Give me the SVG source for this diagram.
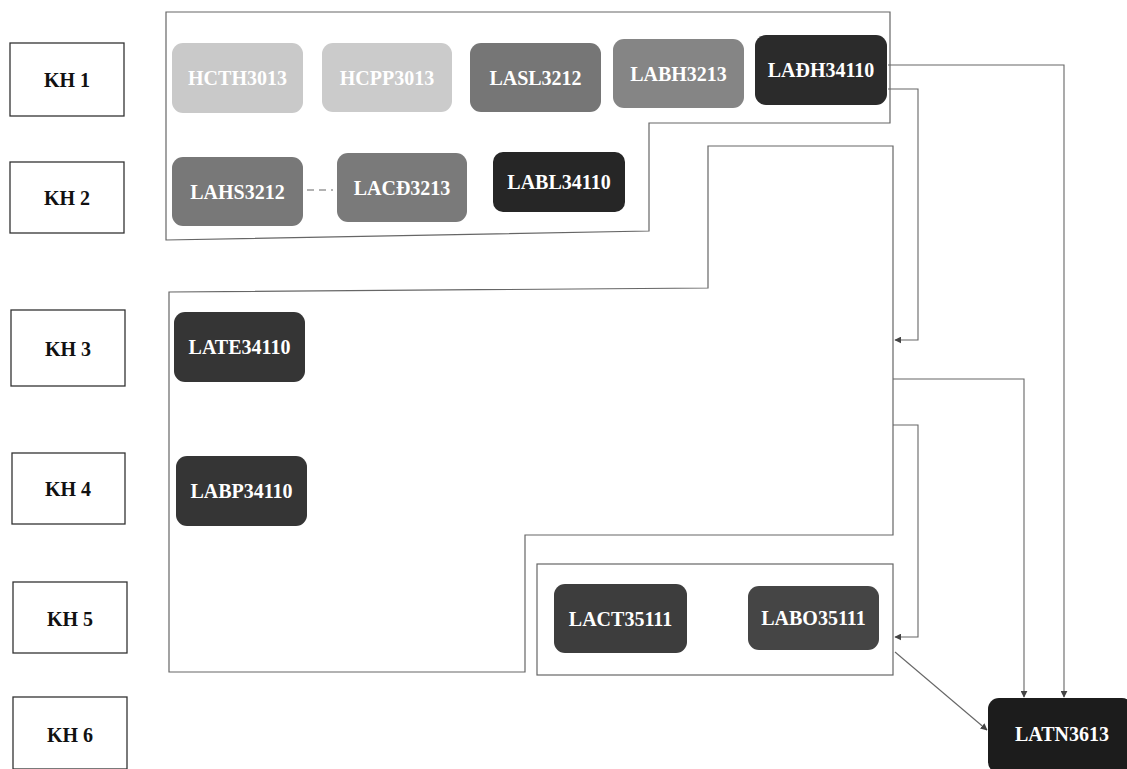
<svg xmlns="http://www.w3.org/2000/svg" width="1127" height="769" viewBox="0 0 1127 769">
<defs>
<marker id="ah" viewBox="0 0 10 10" refX="9" refY="5" markerWidth="7" markerHeight="7" orient="auto" markerUnits="userSpaceOnUse">
<path d="M0,0 L10,5 L0,10 Z" fill="#444"/>
</marker>
<style>
.kh rect{fill:#fff;stroke:#333;stroke-width:1.3}
.kh text{font-family:"Liberation Serif","Times New Roman",serif;font-weight:bold;font-size:20px;fill:#111;text-anchor:middle;dominant-baseline:central}
.nd text{font-family:"Liberation Serif","Times New Roman",serif;font-weight:bold;font-size:20px;fill:#fff;text-anchor:middle;dominant-baseline:central}
.grp{fill:none;stroke:#666;stroke-width:1.2}
.cn{fill:none;stroke:#666;stroke-width:1.1}
</style>
</defs>
<rect width="1127" height="769" fill="#fff"/>

<g id="kh1" class="kh"><rect x="10" y="43" width="114" height="73"/><text x="67" y="80">KH 1</text></g>
<g id="kh2" class="kh"><rect x="10" y="162" width="114" height="71"/><text x="67" y="198">KH 2</text></g>
<g id="kh3" class="kh"><rect x="11" y="310" width="114" height="76"/><text x="68" y="349">KH 3</text></g>
<g id="kh4" class="kh"><rect x="12" y="453" width="113" height="71"/><text x="68" y="489">KH 4</text></g>
<g id="kh5" class="kh"><rect x="13" y="582" width="114" height="71"/><text x="70" y="619">KH 5</text></g>
<g id="kh6" class="kh"><rect x="13" y="697" width="114" height="72"/><text x="70" y="735">KH 6</text></g>

<g id="groups">
<path class="grp" d="M166,12 H890 V123 H649 V231 L166,240 Z"/>
<path class="grp" d="M708,146 H893 V535 H525 V672 H169 V292 L708,288 Z"/>
<rect class="grp" x="537" y="564" width="356" height="111"/>
</g>

<g id="HCTH3013" class="nd"><rect x="172" y="43" width="131" height="70" rx="11" fill="#c9c9c9"/><text x="237.5" y="78">HCTH3013</text></g>
<g id="HCPP3013" class="nd"><rect x="322" y="43" width="130" height="69" rx="11" fill="#cbcbcb"/><text x="387" y="78">HCPP3013</text></g>
<g id="LASL3212" class="nd"><rect x="470" y="43" width="131" height="69" rx="11" fill="#767676"/><text x="535.5" y="78">LASL3212</text></g>
<g id="LABH3213" class="nd"><rect x="613" y="39" width="131" height="69" rx="11" fill="#858585"/><text x="678.5" y="74">LABH3213</text></g>
<g id="LADH34110" class="nd"><rect x="755" y="35" width="132" height="70" rx="11" fill="#2b2b2b"/><text x="821" y="70">LAĐH34110</text></g>
<g id="LAHS3212" class="nd"><rect x="172" y="157" width="131" height="69" rx="11" fill="#787878"/><text x="237.5" y="192">LAHS3212</text></g>
<g id="LACD3213" class="nd"><rect x="337" y="153" width="130" height="69" rx="11" fill="#7a7a7a"/><text x="402" y="188">LACĐ3213</text></g>
<g id="LABL34110" class="nd"><rect x="493" y="152" width="132" height="60" rx="10" fill="#262626"/><text x="559" y="182">LABL34110</text></g>
<g id="LATE34110" class="nd"><rect x="174" y="312" width="131" height="70" rx="11" fill="#353535"/><text x="239.5" y="347">LATE34110</text></g>
<g id="LABP34110" class="nd"><rect x="176" y="456" width="131" height="70" rx="11" fill="#353535"/><text x="241.5" y="491">LABP34110</text></g>
<g id="LACT35111" class="nd"><rect x="554" y="584" width="133" height="69" rx="11" fill="#3d3d3d"/><text x="620.5" y="619">LACT35111</text></g>
<g id="LABO35111" class="nd"><rect x="748" y="586" width="131" height="64" rx="11" fill="#454545"/><text x="813.5" y="618">LABO35111</text></g>
<g id="LATN3613" class="nd"><rect x="988" y="698" width="145" height="75" rx="11" fill="#1c1c1c"/><text x="1062" y="734">LATN3613</text></g>

<g id="connectors">
<path class="cn" d="M307,190 H333" stroke-dasharray="7,5"/>
<path class="cn" d="M888,65 H1064 V697" marker-end="url(#ah)"/>
<path class="cn" d="M888,89 H918 V340 H895" marker-end="url(#ah)"/>
<path class="cn" d="M893,379 H1024 V697" marker-end="url(#ah)"/>
<path class="cn" d="M893,425 H918 V637 H895" marker-end="url(#ah)"/>
<path class="cn" d="M895,652 L987,730" marker-end="url(#ah)"/>
</g>
</svg>
